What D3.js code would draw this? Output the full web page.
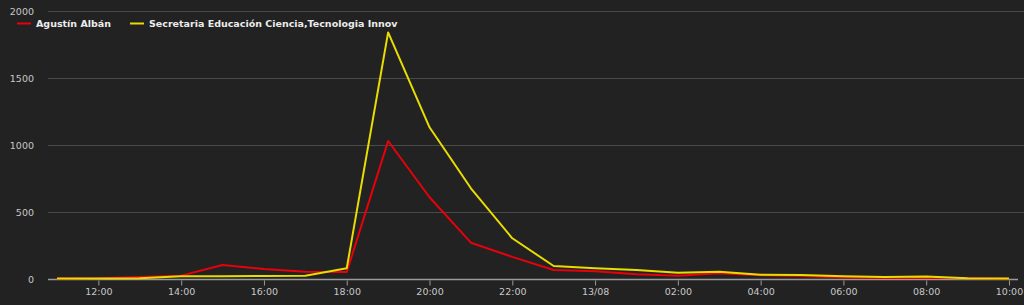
<!DOCTYPE html>
<html>
<head>
<meta charset="utf-8">
<script src="https://cdnjs.cloudflare.com/ajax/libs/d3/7.8.5/d3.min.js"></script>
<style>
  body { margin: 0; background: #222; }
  svg { display: block; }
</style>
</head>
<body>
<div id="chart"></div>
<script>
// hourly samples, 12/08 11:00 -> 13/08 10:00
var hours = ["2000-08-12 11", "2000-08-12 12", "2000-08-12 13", "2000-08-12 14", "2000-08-12 15",
             "2000-08-12 16", "2000-08-12 17", "2000-08-12 18", "2000-08-12 19", "2000-08-12 20",
             "2000-08-12 21", "2000-08-12 22", "2000-08-12 23", "2000-08-13 00", "2000-08-13 01",
             "2000-08-13 02", "2000-08-13 03", "2000-08-13 04", "2000-08-13 05", "2000-08-13 06",
             "2000-08-13 07", "2000-08-13 08", "2000-08-13 09", "2000-08-13 10"];

var seriesNames = ["Agustín Albán", "Secretaria Educación Ciencia,Tecnologia Innov"];
var seriesColors = ["#e8000b", "#e8dc00"];

var alban = [2, 5, 15, 25, 105, 75, 55, 52, 1030, 610, 271, 165, 67, 57, 35, 25, 42, 28, 22, 12, 8, 10, 5, 2];
var secretaria = [3, 3, 5, 20, 20, 22, 25, 80, 1840, 1132, 677, 304, 97, 80, 67, 47, 55, 32, 30, 20, 14, 18, 6, 3];

var yTicks = [0, 500, 1000, 1500, 2000];

var width = 1024, height = 305;
var margin = {top: 11, right: 6, bottom: 26, left: 48};

var parseHour = d3.timeParse("%Y-%m-%d %H");
var dates = hours.map(parseHour);
var series = [alban, secretaria].map(function(vals, i) {
    return { name: seriesNames[i], color: seriesColors[i],
             values: vals.map(function(v, j) { return {date: dates[j], value: v}; }) };
});

var svg = d3.select("#chart").append("svg")
    .attr("width", width)
    .attr("height", height)
    .style("background", "#222");

var x = d3.scaleTime()
    .domain([parseHour("2000-08-12 10"), parseHour("2000-08-13 10")])
    .range([margin.left - 32, width - 15]);
// keep 11:00 near x=57 and 10:00 at x=1009
x.range([57 - (1009 - 57) / 23, 1009]);

var y = d3.scaleLinear()
    .domain([0, 2000])
    .range([height - margin.bottom, margin.top]);

var font = "'DejaVu Sans', Verdana, sans-serif";

// grid
svg.append("g")
  .selectAll("line")
  .data(yTicks.filter(function(d) { return d > 0; }))
  .join("line")
    .attr("x1", margin.left)
    .attr("x2", width)
    .attr("y1", function(d) { return Math.round(y(d)) + 0.5; })
    .attr("y2", function(d) { return Math.round(y(d)) + 0.5; })
    .attr("stroke", "#4a4a4a")
    .attr("stroke-width", 1);

// y labels
svg.append("g")
  .selectAll("text")
  .data(yTicks)
  .join("text")
    .attr("x", 34)
    .attr("y", function(d) { return y(d) + 3.5; })
    .attr("text-anchor", "end")
    .attr("fill", "#c8c8c8")
    .attr("font-family", font)
    .attr("font-size", "9.5px")
    .text(function(d) { return d; });

// x axis
var fmt = function(d) { return d.getHours() === 0 ? d3.timeFormat("%d/%m")(d) : d3.timeFormat("%H:%M")(d); };
var xAxis = d3.axisBottom(x)
    .ticks(d3.timeHour.every(2))
    .tickFormat(fmt)
    .tickSize(6)
    .tickPadding(3);

var xg = svg.append("g")
    .attr("transform", "translate(0," + (Math.round(y(0)) + 0.5) + ")")
    .call(xAxis);
xg.select(".domain").remove();
xg.append("line")
    .attr("x1", margin.left).attr("x2", width - 6)
    .attr("stroke", "#9a9a9a").attr("stroke-width", 1.5);
xg.selectAll(".tick line").attr("stroke", "#9a9a9a").attr("y1", 1);
xg.selectAll(".tick text")
    .attr("fill", "#c8c8c8")
    .attr("font-family", font)
    .attr("font-size", "9.5px");
// drop the 10:00 tick at the left edge of the domain
xg.selectAll(".tick").filter(function(d) { return x(d) < margin.left; }).remove();

// lines
var line = d3.line()
    .x(function(d) { return x(d.date); })
    .y(function(d) { return y(d.value); });

svg.append("g")
  .selectAll("path")
  .data(series)
  .join("path")
    .attr("d", function(d) { return line(d.values); })
    .attr("fill", "none")
    .attr("stroke", function(d) { return d.color; })
    .attr("stroke-width", 2)
    .attr("stroke-linejoin", "round");

// legend
var legendX = [17, 130];
var legend = svg.append("g")
  .selectAll("g")
  .data(series)
  .join("g")
    .attr("transform", function(d, i) { return "translate(" + legendX[i] + ",24)"; });
legend.append("line")
    .attr("x1", 0).attr("x2", 14)
    .attr("y1", -0.5).attr("y2", -0.5)
    .attr("stroke", function(d) { return d.color; })
    .attr("stroke-width", 2);
legend.append("text")
    .attr("x", 19)
    .attr("y", 3)
    .attr("fill", "#ececec")
    .attr("font-family", font)
    .attr("font-weight", "bold")
    .attr("font-size", "9.5px")
    .text(function(d) { return d.name; });
</script>
</body>
</html>
